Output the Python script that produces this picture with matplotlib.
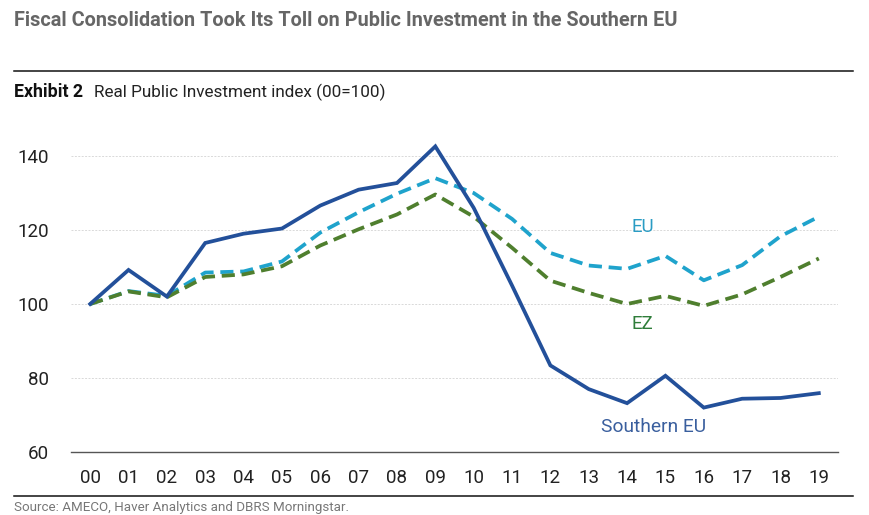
import matplotlib
matplotlib.use("Agg")
import matplotlib.pyplot as plt

years = ["00", "01", "02", "03", "04", "05", "06", "07", "08", "09",
         "10", "11", "12", "13", "14", "15", "16", "17", "18", "19"]
southern_eu = [100, 109.2, 102, 116.5, 119, 120.4, 126.6, 130.9, 132.7, 142.6,
               126, 105, 83.4, 77, 73.2, 80.6, 72, 74.4, 74.6, 75.9]
eu = [100, 103.5, 102.2, 108.5, 108.8, 111.5, 119.3, 124.8, 129.8, 134,
      130, 123, 113.8, 110.4, 109.5, 113, 106.4, 110.5, 118.3, 123.6]
ez = [100, 103.4, 101.8, 107.3, 108, 110.2, 115.8, 120.2, 124.2, 129.6,
      123.6, 115.2, 106.3, 103, 100, 102.2, 99.5, 102.6, 107.3, 112.3]
yticks = [60, 80, 100, 120, 140]

W, H = 870, 515
# no narrow face installed, Roboto sized to the reference's text widths
plt.rcParams["font.family"] = ["Roboto", "DejaVu Sans"]

fig = plt.figure(figsize=(W / 100, H / 100), dpi=100)
# axes box in pixels: left 71, right 838, y=60 at 452, y=140 at 156
ax = fig.add_axes([71 / W, 1 - 452 / H, (838 - 71) / W, (452 - 130) / H])
ax.set_ylim(60, 60 + (452 - 130) / 3.7)
ax.set_xlim(-0.5, 19.5)

for y in yticks[1:]:
    ax.axhline(y, color="#d9d9d9", lw=0.7, ls=(0, (2, 1.5)), zorder=1)

x = range(len(years))
ax.plot(x, southern_eu, color="#23509a", lw=2.7, zorder=3, solid_joinstyle="miter")
ax.plot(x, eu, color="#1fa3cc", lw=2.7, ls=(0, (3.5, 1.8)), zorder=2)
ax.plot(x, ez, color="#4f7f2e", lw=2.7, ls=(0, (3.5, 1.8)), zorder=2)

for s in ["top", "right", "left"]:
    ax.spines[s].set_visible(False)
ax.spines["bottom"].set_color("#555555")
ax.spines["bottom"].set_linewidth(1)
ax.set_xticks(list(x), years)
ax.set_yticks(yticks)
ax.tick_params(axis="both", length=0, labelsize=13.5, labelcolor="#222222")
ax.tick_params(axis="x", pad=12)
ax.tick_params(axis="y", pad=16)

ax.text(14.4, 120.8, "EU", color="#2a9cc4", fontsize=13.5, ha="center", va="center")
ax.text(14.4, 94.6, "EZ", color="#2f7d3a", fontsize=13.5, ha="center", va="center")
ax.text(14.7, 66.7, "Southern EU", color="#3a5f9e", fontsize=13.8, ha="center", va="center")

fig.text(14 / W, 1 - 21 / H, "Fiscal Consolidation Took Its Toll on Public Investment in the Southern EU",
         fontsize=14.3, fontweight="bold", color="#666666", va="center")
fig.add_artist(plt.Line2D([14 / W, 853 / W], [1 - 71 / H] * 2, color="#111111", lw=1.1))
fig.text(14 / W, 1 - 92 / H, "Exhibit 2", fontsize=12.8, fontweight="bold", color="#111111", va="center")
fig.text(94 / W, 1 - 92 / H, "Real Public Investment index (00=100)", fontsize=12.3, color="#222222", va="center")
fig.add_artist(plt.Line2D([14 / W, 853 / W], [1 - 496 / H] * 2, color="#111111", lw=1.1))
fig.text(14 / W, 1 - 508 / H, "Source: AMECO, Haver Analytics and DBRS Morningstar.",
         fontsize=9.6, color="#777777", va="center")

fig.savefig("out.png", dpi=100)
